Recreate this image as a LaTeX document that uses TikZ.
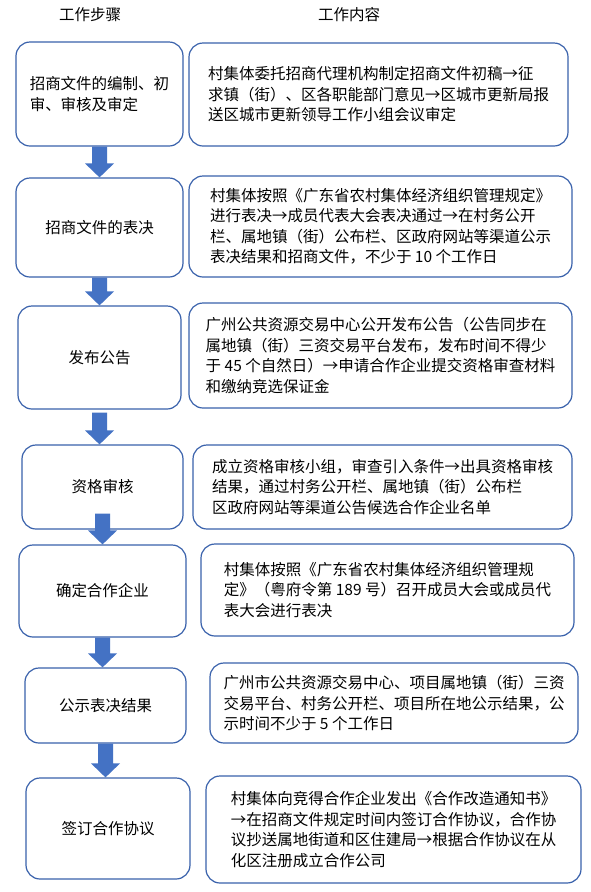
\documentclass[tikz,border=0pt]{standalone}
\usepackage{fontspec}
\newfontfamily\cjk{Noto Sans CJK SC}
\usetikzlibrary{calc}
\definecolor{boxline}{HTML}{3A62AC}
\definecolor{arrowfill}{HTML}{4472C4}
\tikzset{
  box/.style={draw=boxline, line width=1.2pt, fill=white, rounded corners=14pt,
    align=left, inner sep=0pt, font=\cjk\fontsize{15.5}{20.5}\selectfont},
  head/.style={inner sep=0pt, font=\cjk\fontsize{15.5}{20.5}\selectfont}
}
\newcommand{\blockarr}[3]{%
  \fill[arrowfill] let \p1=(#1.south), \p2=(#2.north) in
    (\x1-7.5pt,\y1+#3) -- (\x1+7.5pt,\y1+#3) -- (\x1+7.5pt,\y2+14pt)
    -- (\x1+14.5pt,\y2+14pt) -- (\x1,\y2) -- (\x1-14.5pt,\y2+14pt)
    -- (\x1-7.5pt,\y2+14pt) -- cycle;}
\begin{document}
\begin{tikzpicture}[x=1pt,y=-1pt]
\useasboundingbox[fill=white] (0,0) rectangle (591,892);

\node[head] (h1) at (90,15) {工作步骤};
\node[head] (h2) at (349,15) {工作内容};

% row 1
\node[box, minimum width=167pt, minimum height=104pt] (L1) at (99.5,94)
  {招商文件的编制、初\\审、审核及审定};
\node[box, minimum width=379pt, minimum height=103pt] (R1) at (378.5,94.5)
  {村集体委托招商代理机构制定招商文件初稿→征\\求镇（街）、区各职能部门意见→区城市更新局报\\送区城市更新领导工作小组会议审定};

% row 2
\node[box, minimum width=167pt, minimum height=99pt] (L2) at (99.5,227.5)
  {招商文件的表决};
\node[box, minimum width=383pt, minimum height=101pt] (R2) at (380.5,226.5)
  {村集体按照《广东省农村集体经济组织管理规定》\\进行表决→成员代表大会表决通过→在村务公开\\栏、属地镇（街）公布栏、区政府网站等渠道公示\\表决结果和招商文件，不少于 10 个工作日};

% row 3
\node[box, minimum width=163pt, minimum height=103pt] (L3) at (99.5,357.5)
  {发布公告};
\node[box, minimum width=383pt, minimum height=105pt] (R3) at (380.5,355.5)
  {广州公共资源交易中心公开发布公告（公告同步在\\属地镇（街）三资交易平台发布，发布时间不得少\\于 45 个自然日）→申请合作企业提交资格审查材料\\和缴纳竞选保证金};

% row 4
\node[box, minimum width=161pt, minimum height=84pt] (L4) at (102.5,487)
  {资格审核};
\node[box, minimum width=379pt, minimum height=84pt] (R4) at (382.5,487)
  {成立资格审核小组，审查引入条件→出具资格审核\\结果，通过村务公开栏、属地镇（街）公布栏\\区政府网站等渠道公告候选合作企业名单};

% row 5
\node[box, minimum width=167pt, minimum height=92pt] (L5) at (102.5,591)
  {确定合作企业};
\node[box, minimum width=373pt, minimum height=92pt] (R5) at (387.5,590)
  {村集体按照《广东省农村集体经济组织管理规\\定》（粤府令第 189 号）召开成员大会或成员代\\表大会进行表决};

% row 6
\node[box, minimum width=161pt, minimum height=75pt] (L6) at (105.5,705.5)
  {公示表决结果};
\node[box, minimum width=368pt, minimum height=80pt] (R6) at (394,703)
  {广州市公共资源交易中心、项目属地镇（街）三资\\交易平台、村务公开栏、项目所在地公示结果，公\\示时间不少于 5 个工作日};

% row 7
\node[box, minimum width=164pt, minimum height=101pt] (L7) at (108,828.5)
  {签订合作协议};
\node[box, minimum width=375pt, minimum height=107pt] (R7) at (393.5,829.5)
  {村集体向竞得合作企业发出《合作改造通知书》\\→在招商文件规定时间内签订合作协议，合作协\\议抄送属地街道和区住建局→根据合作协议在从\\化区注册成立合作公司};

% block arrows
\blockarr{L1}{L2}{0pt}
\blockarr{L2}{L3}{0pt}
\blockarr{L3}{L4}{-3pt}
\blockarr{L4}{L5}{16pt}
\blockarr{L5}{L6}{0pt}
\blockarr{L6}{L7}{0pt}
\end{tikzpicture}
\end{document}
